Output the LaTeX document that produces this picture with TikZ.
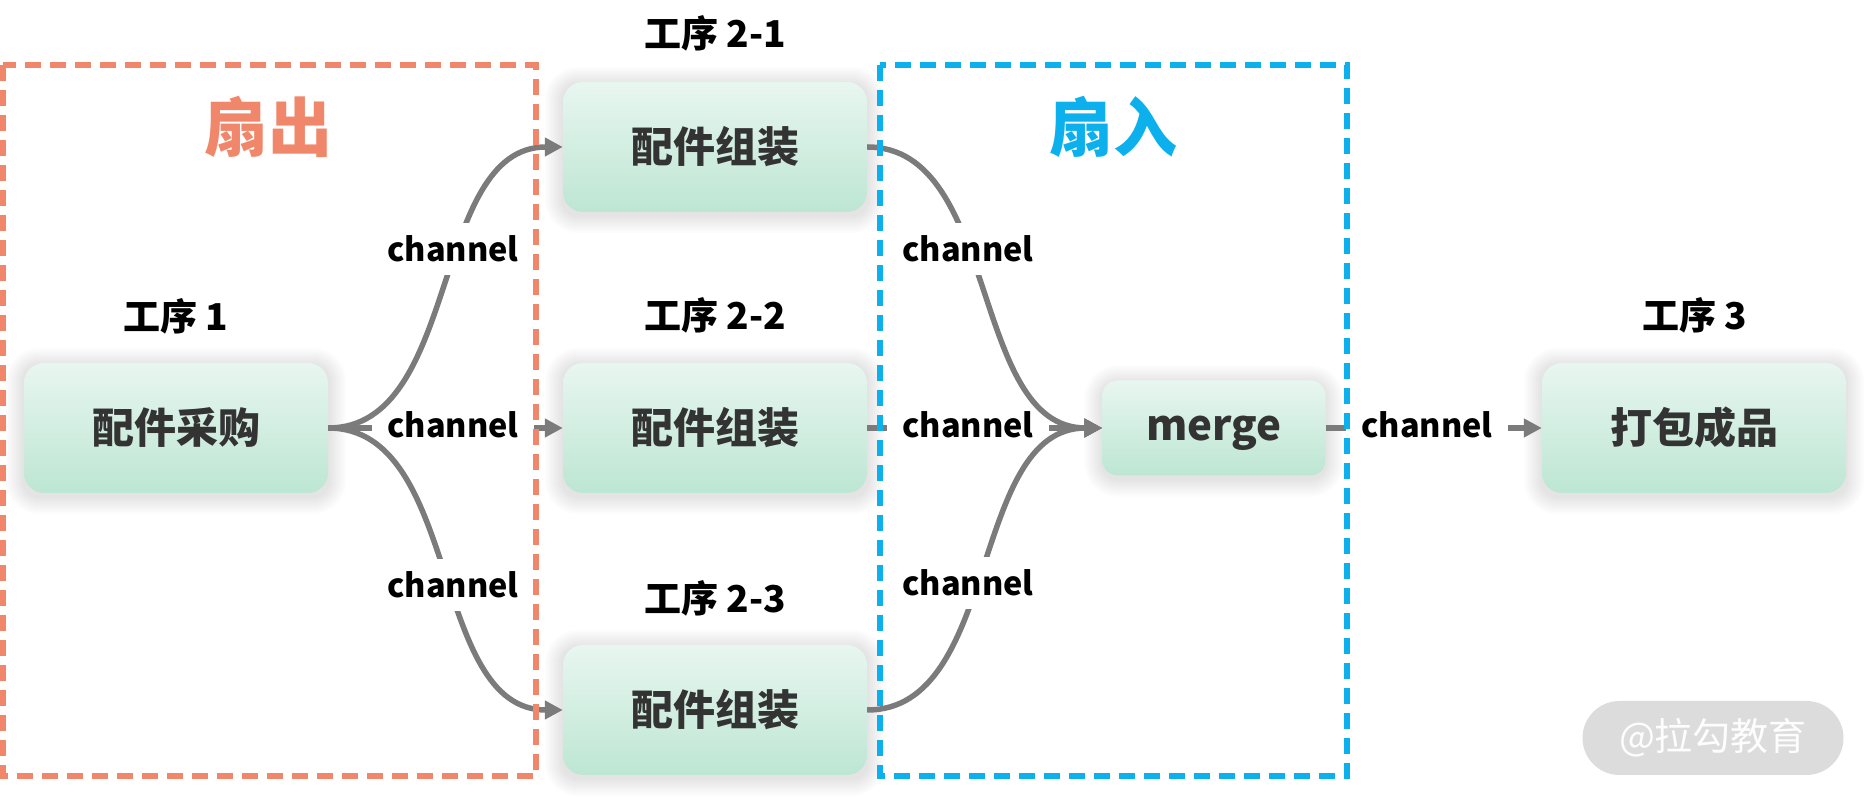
\documentclass[tikz,border=0pt]{standalone}
\usepackage{fontspec}
\setmainfont{Noto Sans CJK SC}
\usetikzlibrary{arrows.meta}
\pgfdeclarelayer{bg}
\pgfsetlayers{bg,main}
\definecolor{conngray}{HTML}{7B7B7B}
\definecolor{boxtop}{HTML}{E8F6F0}
\definecolor{boxbot}{HTML}{BDE6D3}
\definecolor{boxtext}{HTML}{333333}
\definecolor{orng}{HTML}{F0876A}
\definecolor{blu}{HTML}{0BB0EC}
\definecolor{wmgray}{HTML}{DCDCDC}
\tikzset{
  box/.style={rounded corners=20pt, top color=boxtop, bottom color=boxbot,
    minimum width=304pt, minimum height=130pt, inner sep=0pt,
    font=\bfseries\fontsize{42}{50}\selectfont, text=boxtext},
  stagelbl/.style={font=\bfseries\fontsize{37}{44}\selectfont, text=black},
  chan/.style={fill=white, inner xsep=16pt, inner ysep=13pt,
    font=\bfseries\fontsize{32.5}{40}\selectfont, text=black},
  chanflat/.style={chan, inner xsep=15pt, inner ysep=1pt},
  conn/.style={draw=conngray, line width=5.5pt, -{Triangle[length=18pt,width=18pt]}},
  dashbox/.style={line width=6pt, dash pattern=on 16pt off 9pt},
  bigtitle/.style={font=\bfseries\fontsize{64}{72}\selectfont}
}
\begin{document}
\begin{tikzpicture}[x=1pt,y=1pt]
\useasboundingbox (0,0) rectangle (1871,799);

% boxes
\node[box] (buy) at (176,371) {配件采购};
\node[box] (a1) at (715,652) {配件组装};
\node[box] (a2) at (715,371) {配件组装};
\node[box] (a3) at (715,89) {配件组装};
\node[box, minimum width=223pt, minimum height=95pt, rounded corners=15pt, text depth=0pt] (merge) at (1214,371) {merge};
\node[box] (pack) at (1694,371) {打包成品};

% soft shadows
\begin{pgfonlayer}{bg}
\foreach \n in {buy,a1,a2,a3,merge,pack}{
  \foreach \i in {2,4,...,18}{
    \fill[black, opacity=0.012, rounded corners={16pt+\i*1pt}]
      ([xshift={-\i*1pt}, yshift={-\i*1pt-3pt}]\n.south west) rectangle
      ([xshift={\i*1pt}, yshift={\i*1pt-3pt}]\n.north east);
  }
}
\end{pgfonlayer}

% stage labels
\node[stagelbl] (t1) at (176,483) {工序 1};
\node[stagelbl] (t21) at (715,766) {工序 2-1};
\node[stagelbl] (t22) at (715,484) {工序 2-2};
\node[stagelbl] (t23) at (715,201) {工序 2-3};
\node[stagelbl] (t3) at (1695,484) {工序 3};

% titles
\node[bigtitle, text=orng] (fanout) at (268,672) {扇出};
\node[bigtitle, text=blu] (fanin) at (1113,672) {扇入};

% straight connectors and their labels
\draw[conn] (buy.east) -- (a2.west);
\draw[conn] (a2.east) -- (merge.west);
\draw[conn] (merge.east) -- (pack.west);
\node[chanflat] (c2) at (453,374) {channel};
\node[chanflat] (c5) at (968,374) {channel};
\node[chanflat] (c7) at (1427,374) {channel};

% curved connectors and their labels
\draw[conn] (buy.east) to[out=0,in=180,looseness=0.93] (a1.west);
\draw[conn] (buy.east) to[out=0,in=180,looseness=0.93] (a3.west);
\draw[conn] (a1.east) to[out=0,in=180,looseness=0.93] (merge.west);
\draw[conn] (a3.east) to[out=0,in=180,looseness=0.93] (merge.west);
\node[chan] (c1) at (453,550) {channel};
\node[chan] (c3) at (453,214) {channel};
\node[chan] (c4) at (968,550) {channel};
\node[chan] (c6) at (968,216) {channel};

% dashed groups
\draw[dashbox, draw=orng] (3,734) rectangle (536,23);
\draw[dashbox, draw=blu] (880,734) rectangle (1347,23);

% watermark
\node[fill=wmgray, rounded corners=37pt, minimum width=261pt, minimum height=74pt,
  text=white!95!wmgray, font=\fontsize{38}{44}\selectfont] (wm) at (1713,61) {@拉勾教育};
\end{tikzpicture}
\end{document}
